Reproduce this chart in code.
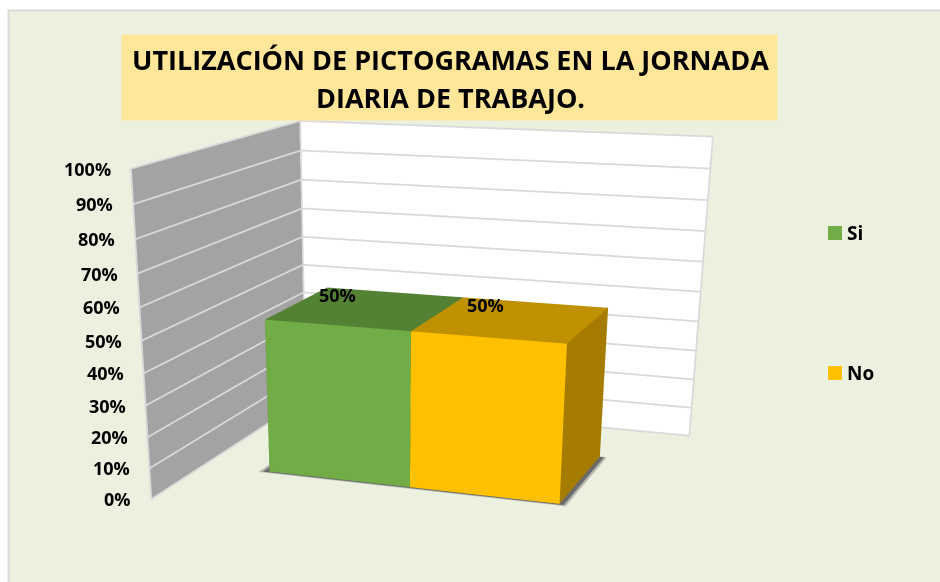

import numpy as np, plotly.graph_objects as go

categories = ["Si", "No"]
values = [50, 50]
ticks = list(range(0, 101, 10))
title_lines = ["UTILIZACIÓN DE PICTOGRAMAS EN LA JORNADA", "DIARIA DE TRABAJO."]
front = ["#70AD47", "#FFC000"]
top = ["#548235", "#BF9000"]
side = ["#4E7A30", "#A67C00"]

# view of the scene (fitted to the reference's perspective)
W, H, PX = 940, 1400, 364
EYE = np.array([2.43655, -4.50839, 1.68031])
YAW, PITCH, ROLL = -0.36486, -0.43853, -0.00608
WX, WY = 1.45578, 1.2688
bar_edges = [0.16361, 0.5001, 0.83832]
bar_depth = [0.30583, 0.7222]

def basis(yaw, pitch, roll):
    fw = np.array([np.sin(yaw)*np.cos(pitch), np.cos(yaw)*np.cos(pitch), np.sin(pitch)])
    r = np.cross(fw, [0, 0, 1.]); r /= np.linalg.norm(r)
    u = np.cross(r, fw)
    c, s = np.cos(roll), np.sin(roll)
    return fw, c*r + s*u, -s*r + c*u
fw, _, up = basis(YAW, PITCH, ROLL)
px = lambda x: x/W
py = lambda y: 1 - y/H
FLAT = dict(ambient=1, diffuse=0, specular=0, roughness=1, fresnel=0)
fig = go.Figure()

def box(x0, x1, y0, y1, z0, z1, cols, **kw):
    X = [x0, x1, x1, x0, x0, x1, x1, x0]; Y = [y0, y0, y1, y1, y0, y0, y1, y1]; Z = [z0]*4 + [z1]*4
    i = [0,0,4,4,0,0,1,1,3,3,0,0]; j = [1,2,5,6,1,5,2,6,2,6,3,7]; k = [2,3,6,7,5,4,6,5,6,7,7,4]
    return go.Mesh3d(x=X, y=Y, z=Z, i=i, j=j, k=k, facecolor=cols, flatshading=True, hoverinfo="skip", lighting=FLAT, **kw)

# walls
fig.add_trace(go.Mesh3d(x=[0,0,0,0], y=[0,1,1,0], z=[0,0,100,100], i=[0,0], j=[1,2], k=[2,3], color="#A3A3A3", flatshading=True, hoverinfo="skip", lighting=FLAT))
fig.add_trace(go.Mesh3d(x=[0,1,1,0], y=[1,1,1,1], z=[0,0,100,100], i=[0,0], j=[1,2], k=[2,3], color="#FFFFFF", flatshading=True, hoverinfo="skip", lighting=FLAT))
# gridlines
gx, gy, gz = [], [], []
for t in ticks:
    gx += [.002, .002, 1, None]; gy += [0, .998, .998, None]; gz += [t, t, t, None]
gx += [.002, .002, None, 1, 1, None, .002, .002]; gy += [.998, .998, None, .998, .998, None, 0, 0]; gz += [0, 100, None, 0, 100, None, 0, 100]
fig.add_trace(go.Scatter3d(x=gx, y=gy, z=gz, mode="lines", line=dict(color="#D9D9D9", width=3.5), hoverinfo="skip", showlegend=False))
# soft shadow under the bars
x0, x2 = bar_edges[0], bar_edges[-1]
fig.add_trace(box(x0-.022, x2+.016, bar_depth[0]-.012, bar_depth[1], 0, .01, ["#B4B7AC"]*12))
fig.add_trace(box(x0-.014, x2+.010, bar_depth[0]-.006, bar_depth[1], .01, .02, ["#6A6A6A"]*12))
# bars
for n, v in enumerate(values):
    cols = ["#666666"]*2 + [top[n]]*2 + [front[n]]*2 + [side[n]]*6
    fig.add_trace(box(bar_edges[n], bar_edges[n+1], bar_depth[0], bar_depth[1], 0, v, cols))

annos = [dict(x=0, y=0, z=t, text=f"{t}%", showarrow=False, xanchor="right", xshift=-17, yanchor="middle",
              font=dict(family="Open Sans", size=18, color="#000", weight=700)) for t in ticks]
for n, (dx, dy) in enumerate([(-29, 13), (-27, 14)]):
    annos.append(dict(x=(bar_edges[n]+bar_edges[n+1])/2, y=sum(bar_depth)/2, z=values[n], text=f"{values[n]}%", showarrow=False,
                      xshift=dx, yshift=dy, font=dict(family="Open Sans", size=18, color="#000", weight=700)))

C = np.array([WX/2, WY/2, .5]); e = EYE - C; c = e + fw*np.linalg.norm(e)
scene = dict(xaxis=dict(visible=False, range=[0, 1]), yaxis=dict(visible=False, range=[0, 1]), zaxis=dict(visible=False, range=[0, 100]),
             aspectmode="manual", aspectratio=dict(x=WX, y=WY, z=1), bgcolor="rgba(0,0,0,0)", dragmode="orbit",
             domain=dict(x=[0, 2*PX/W], y=[0, 1]), annotations=annos,
             camera=dict(eye=dict(x=e[0], y=e[1], z=e[2]), center=dict(x=c[0], y=c[1], z=c[2]), up=dict(x=up[0], y=up[1], z=up[2]),
                         projection=dict(type="perspective")))

shapes = [dict(type="rect", xref="paper", yref="paper", x0=px(8.5), x1=px(960), y0=py(10.5), y1=py(700), fillcolor="#EBF0DF",
               line=dict(color="#D9D9D9", width=2), layer="below")]
lab = []
for n, yy in enumerate([233, 373]):
    shapes.append(dict(type="rect", xref="paper", yref="paper", x0=px(828), x1=px(842), y0=py(yy-7), y1=py(yy+7), fillcolor=front[n], line=dict(width=0)))
    lab.append(dict(xref="paper", yref="paper", x=px(845), y=py(yy), xanchor="left", yanchor="middle", text=categories[n], showarrow=False,
                    font=dict(family="Open Sans", size=19, color="#000", weight=700)))
lab.append(dict(xref="paper", yref="paper", x=px(449.5), y=py(77.5), xanchor="center", yanchor="middle", width=653, height=83, bgcolor="#FFE699",
                showarrow=False, text=" ", font=dict(size=12)))
for line, yy in zip(title_lines, [59, 97]):
    lab.append(dict(xref="paper", yref="paper", x=px(450), y=py(yy), xanchor="center", yanchor="middle", text=line, showarrow=False,
                    font=dict(family="Open Sans", size=27, color="#000", weight=700)))
fig.update_layout(width=W, height=H, margin=dict(l=0, r=0, t=0, b=0), paper_bgcolor="#FFFFFF", showlegend=False, scene=scene, shapes=shapes, annotations=lab)
fig.write_html("out.html", config=dict(displayModeBar=False),
               post_script="document.body.style.margin='0';document.documentElement.style.overflow='hidden';document.body.style.overflow='hidden';")
